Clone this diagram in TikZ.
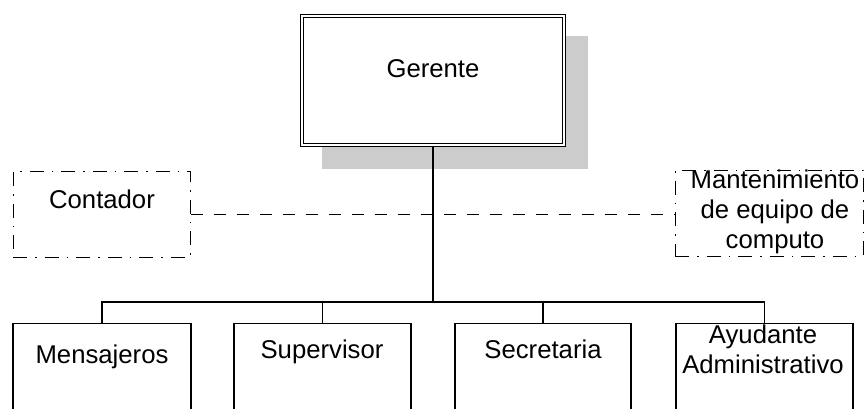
\documentclass[tikz,border=0pt]{standalone}
\usepackage{fontspec}
\setmainfont{Liberation Sans}
\begin{document}
\begin{tikzpicture}[x=1pt,y=-1pt,
  box/.style={draw=black, line width=1.1pt, fill=white, rectangle, inner sep=0pt},
  staffbox/.style={draw=black, line width=1pt, rectangle, inner sep=0pt,
    dash pattern=on 14pt off 8pt on 1.5pt off 8pt},
  lbl/.style={font=\fontsize{25.7}{30}\selectfont, inner sep=0pt, align=center},
  link/.style={draw=black, line width=1.1pt},
  stafflink/.style={draw=black, line width=1pt, dash pattern=on 12pt off 11pt}]
\useasboundingbox (0,0) rectangle (865,408);
\clip (0,0) rectangle (865,408);

% manager box with its drop shadow
\fill[black!20] (322,36) rectangle (588,169);
\node[draw=black, line width=1.1pt, double=white, double distance=1.8pt, fill=white,
      minimum width=262pt, minimum height=129pt, inner sep=0pt] (ger) at (433,80.5) {};
\node[lbl, anchor=base] (gert) at (433,77) {Gerente};

% staff positions
\node[staffbox, minimum width=177pt, minimum height=86pt] (cont) at (101.5,214) {};
\node[lbl, anchor=base] (contt) at (102,208) {Contador};
\node[staffbox, minimum width=188pt, minimum height=86pt] (mant) at (769,213) {};
\node[lbl, anchor=north] (mantt) at (775,169.5) {Mantenimiento\\de equipo de\\computo};

% subordinate boxes
\node[box, anchor=north, minimum width=178pt, minimum height=130pt] (mens) at (102,323) {};
\node[box, anchor=north, minimum width=177pt, minimum height=130pt] (sup) at (322.5,323) {};
\node[box, anchor=north, minimum width=176pt, minimum height=130pt] (sec) at (543,323) {};
\node[box, anchor=north, minimum width=177pt, minimum height=130pt] (ayud) at (764.5,323) {};
\node[lbl, anchor=base] (menst) at (102,363) {Mensajeros};
\node[lbl, anchor=base] (supt) at (322,358) {Supervisor};
\node[lbl, anchor=base] (sect) at (543,358) {Secretaria};
\node[lbl, anchor=north] (ayudt) at (763,324.5) {Ayudante\\Administrativo};

% connectors
\coordinate (bus) at (433,302);
\draw[link, line width=1.6pt] (ger.south) -- (bus);
\draw[link] (mens.north) |- (bus) -| (ayud.north);
\draw[link] (sup.north) -- (sup.north |- bus);
\draw[link] (sec.north) -- (sec.north |- bus);
\draw[stafflink] (cont.east) -- (cont.east -| mant.west);
\end{tikzpicture}
\end{document}
